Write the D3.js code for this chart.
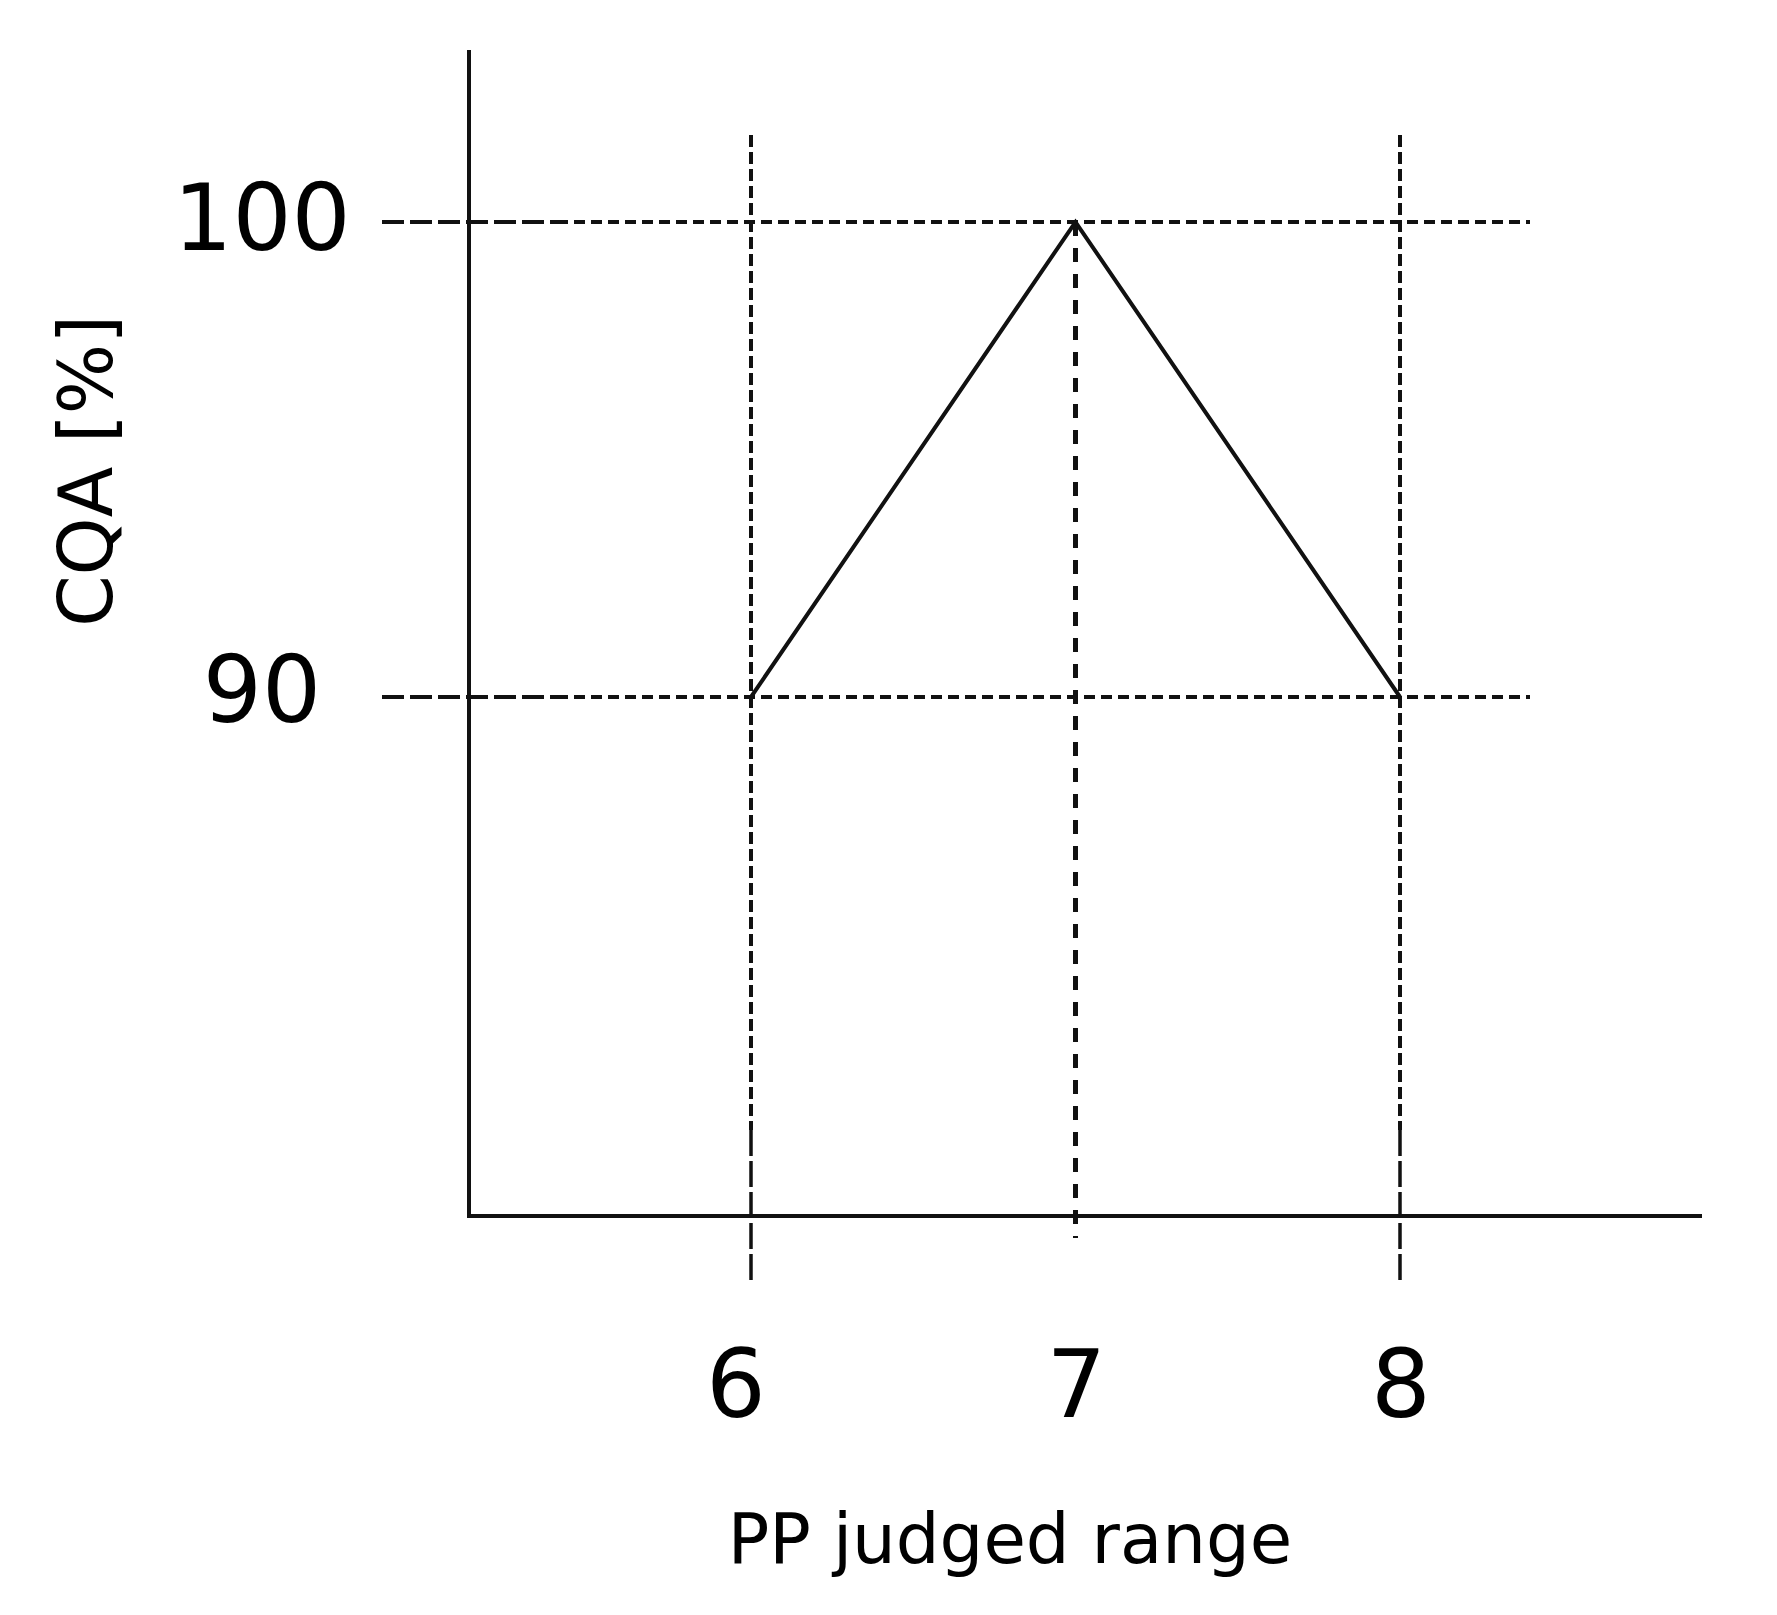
<!DOCTYPE html>
<html>
<head>
<meta charset="utf-8">
<script src="https://cdn.jsdelivr.net/npm/d3@7.9.0/dist/d3.min.js"></script>
<style>
  html, body { margin: 0; padding: 0; background: #fff; }
  svg { display: block; font-family: 'DejaVu Sans', Verdana, sans-serif; }
</style>
</head>
<body>
<svg id="chart" width="1777" height="1615"></svg>
<script>
// data
const xTicks = [6, 7, 8];
const yTicks = [90, 100];
const curveX = [6, 7, 8];
const curveY = [90, 100, 90];
const xTitle = 'PP judged range';
const yTitle = 'CQA [%]';

const frame = { left: 469, right: 1702, top: 50, bottom: 1216 };

const svg = d3.select('#chart');

const x = d3.scaleLinear().domain([6, 8]).range([751, 1400]);
const y = d3.scaleLinear().domain([90, 100]).range([697, 222]);

const ink = '#111';

// horizontal guide lines: long dashes near the axis, short dashes after
const hGuides = svg.append('g');
yTicks.forEach((v) => {
  hGuides.append('line')
    .attr('x1', 382).attr('x2', 557)
    .attr('y1', y(v)).attr('y2', y(v))
    .attr('stroke', ink).attr('stroke-width', 4)
    .attr('stroke-dasharray', '22 6');
  hGuides.append('line')
    .attr('x1', 557).attr('x2', 1530)
    .attr('y1', y(v)).attr('y2', y(v))
    .attr('stroke', ink).attr('stroke-width', 4)
    .attr('stroke-dasharray', '11 6');
});

// vertical guide lines
const vGuides = svg.append('g');
xTicks.forEach((v) => {
  if (v === 7) {
    vGuides.append('line')
      .attr('x1', x(v)).attr('x2', x(v))
      .attr('y1', y(100)).attr('y2', 1238)
      .attr('stroke', ink).attr('stroke-width', 5)
      .attr('stroke-dasharray', '14 12');
  } else {
    vGuides.append('line')
      .attr('x1', x(v)).attr('x2', x(v))
      .attr('y1', 135).attr('y2', 1130)
      .attr('stroke', ink).attr('stroke-width', 4)
      .attr('stroke-dasharray', '12 5');
    vGuides.append('line')
      .attr('x1', x(v)).attr('x2', x(v))
      .attr('y1', 1130).attr('y2', 1280)
      .attr('stroke', ink).attr('stroke-width', 3.5)
      .attr('stroke-dasharray', '26 5');
  }
});

// axes frame
svg.append('line')
  .attr('x1', frame.left).attr('x2', frame.left)
  .attr('y1', frame.top).attr('y2', frame.bottom)
  .attr('stroke', ink).attr('stroke-width', 4);
svg.append('line')
  .attr('x1', frame.left - 2).attr('x2', frame.right)
  .attr('y1', frame.bottom).attr('y2', frame.bottom)
  .attr('stroke', ink).attr('stroke-width', 4);

// the triangle
const line = d3.line()
  .x((d, i) => x(curveX[i]))
  .y((d) => y(d));

svg.append('path')
  .datum(curveY)
  .attr('d', line)
  .attr('fill', 'none')
  .attr('stroke', ink)
  .attr('stroke-width', 4)
  .attr('stroke-linejoin', 'miter');

// tick labels
svg.append('g')
  .selectAll('text')
  .data(xTicks)
  .join('text')
  .attr('x', (d) => x(d) + (d === 6 ? -15 : 1))
  .attr('y', 1417)
  .attr('text-anchor', 'middle')
  .attr('font-size', 94)
  .attr('fill', '#000')
  .text((d) => d);

svg.append('g')
  .selectAll('text')
  .data(yTicks)
  .join('text')
  .attr('x', 262)
  .attr('y', (d) => y(d) + (d === 100 ? 28 : 25))
  .attr('text-anchor', 'middle')
  .attr('font-size', 93)
  .attr('fill', '#000')
  .text((d) => d);

// axis titles
svg.append('text')
  .attr('x', 1010)
  .attr('y', 1563)
  .attr('text-anchor', 'middle')
  .attr('font-size', 69)
  .attr('fill', '#000')
  .text(xTitle);

svg.append('text')
  .attr('transform', 'translate(112,471) rotate(-90)')
  .attr('text-anchor', 'middle')
  .attr('font-size', 74)
  .attr('fill', '#000')
  .text(yTitle);
</script>
</body>
</html>
